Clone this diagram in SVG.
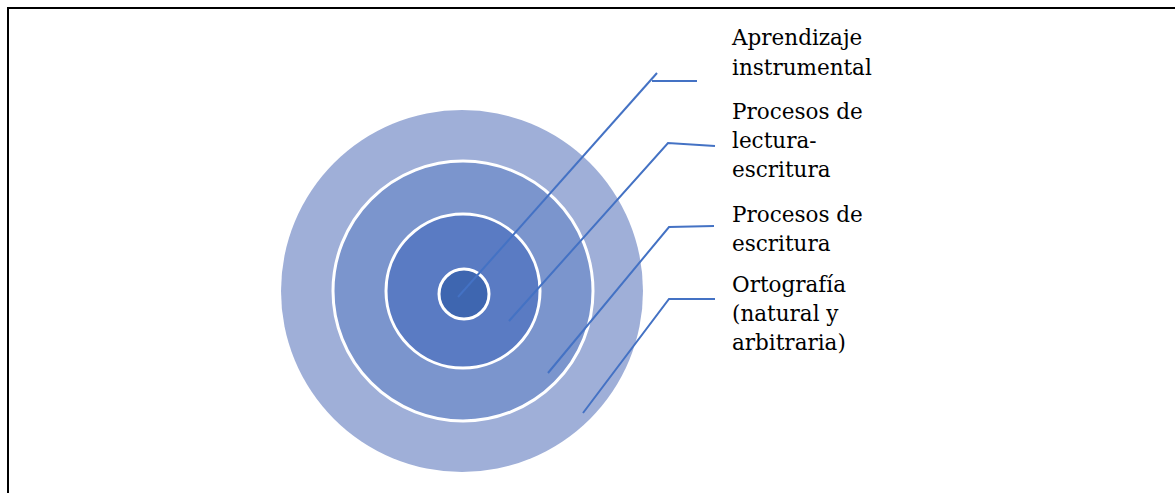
<svg xmlns="http://www.w3.org/2000/svg" width="1175" height="493" viewBox="0 0 1175 493">
<style>
.con{fill:none;stroke:#4472C4;stroke-width:2}
.ring{stroke:#fff;stroke-width:3}
.lbl{font-family:'DejaVu Serif','Liberation Serif',serif;font-size:21.5px;fill:#000}
</style>
<rect width="1175" height="493" fill="#fff"/>
<path d="M8,493 V8 H1175" fill="none" stroke="#000" stroke-width="2"/>
<g id="ring-ortografia"><circle cx="462" cy="291" r="181" fill="#9FAFD8"/></g>
<g id="ring-escritura"><circle class="ring" cx="463" cy="291" r="130" fill="#7B95CD"/></g>
<g id="ring-lectura"><circle class="ring" cx="463" cy="291" r="77" fill="#5A7BC3"/></g>
<g id="ring-instrumental"><circle class="ring" cx="464" cy="294" r="25" fill="#3E66B0"/></g>
<g id="connectors">
<polyline class="con" points="458,297 657,73"/>
<line class="con" x1="652" y1="81" x2="697" y2="81"/>
<polyline class="con" points="509,321 668,143 715,146"/>
<polyline class="con" points="548,373 669,227 714,226"/>
<polyline class="con" points="583,413 669,299 715,299"/>
</g>
<g class="lbl">
<g id="label-instrumental"><text x="732" y="45">Aprendizaje</text><text x="732" y="75">instrumental</text></g>
<g id="label-lectura"><text x="732" y="119">Procesos de</text><text x="732" y="148">lectura-</text><text x="732" y="177">escritura</text></g>
<g id="label-escritura"><text x="732" y="222">Procesos de</text><text x="732" y="251">escritura</text></g>
<g id="label-ortografia"><text x="732" y="292">Ortografía</text><text x="732" y="321">(natural y</text><text x="732" y="350">arbitraria)</text></g>
</g>
</svg>
